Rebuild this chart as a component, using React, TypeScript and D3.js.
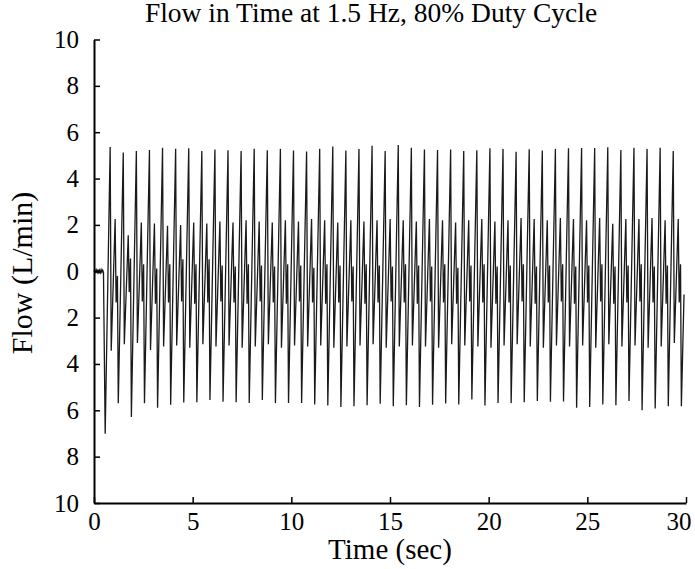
import React, { useEffect, useRef } from 'react'
import * as d3 from 'd3'

// flat signal before the pump starts: [time, flow]
const leadIn: [number, number][] = [
  [0, -0.02], [0.04, 0.06], [0.08, -0.08], [0.12, 0.05], [0.16, -0.05], [0.2, 0.08],
  [0.24, -0.1], [0.28, 0.04], [0.32, -0.06], [0.36, 0.07], [0.4, -0.04], [0.44, 0.05], [0.48, -0.05]
]

// first deep trough time and cycle length (sec)
const cycleStart = 0.567
const cyclePeriod = 0.6636

// where in a cycle each feature sits (fraction of the period after the deep trough)
const phasePeak = 0.38
const phasePostTrough = 0.46
const phaseSecPeak = 0.76
const phaseSmallTrough = 0.835
const phaseSmallPeak = 0.935

const troughs = [
  -7.01, -5.70, -6.29, -5.70, -5.89, -5.76, -5.66, -5.65, -5.56, -5.63, -5.65,
  -5.68, -5.55, -5.69, -5.68, -5.68, -5.75, -5.79, -5.86, -5.83, -5.78, -5.72,
  -5.82, -5.78, -5.86, -5.76, -5.71, -5.75, -5.53, -5.79, -5.68, -5.69, -5.65,
  -5.60, -5.63, -5.62, -5.89, -5.86, -5.75, -5.78, -5.60, -6.00, -5.92, -5.82,
  -5.82
]
const peaks = [
  5.36, 5.12, 5.19, 5.23, 5.33, 5.29, 5.31, 5.19, 5.25, 5.22, 5.19,
  5.29, 5.22, 5.28, 5.21, 5.17, 5.28, 5.38, 5.21, 5.28, 5.41, 5.19,
  5.45, 5.33, 5.25, 5.23, 5.25, 5.19, 5.22, 5.31, 5.28, 5.16, 5.26,
  5.21, 5.28, 5.31, 5.32, 5.32, 5.35, 5.23, 5.33, 5.28, 5.33, 5.19
]
const postTroughs = [
  -3.43, -3.15, -3.10, -3.40, -3.25, -3.20, -3.30, -3.15, -3.25, -3.20, -3.30,
  -3.25, -3.15, -3.30, -3.20, -3.25, -3.20, -3.30, -3.25, -3.20, -3.15, -3.30,
  -3.25, -3.20, -3.25, -3.30, -3.15, -3.20, -3.25, -3.30, -3.20, -3.15, -3.25,
  -3.30, -3.20, -3.25, -3.20, -3.30, -3.15, -3.25, -3.20, -3.30, -3.25, -3.10
]
const secPeaks = [
  2.25, 1.55, 2.10, 2.06, 1.96, 2.00, 2.10, 2.06, 2.15, 2.10, 2.20,
  2.15, 2.10, 2.20, 2.15, 2.25, 2.20, 2.10, 2.20, 2.15, 2.20, 2.25,
  2.20, 2.15, 2.25, 2.20, 2.10, 2.20, 2.25, 2.15, 2.20, 2.30, 2.25,
  2.20, 2.30, 2.25, 2.20, 2.30, 2.05, 2.25, 2.25, 2.30, 2.20, 2.25
]
const smallTroughs = [
  -1.35, -0.90, -1.30, -1.40, -1.35, -1.30, -1.40, -1.35, -1.30, -1.35, -1.40,
  -1.30, -1.35, -1.40, -1.30, -1.35, -1.40, -1.35, -1.30, -1.40, -1.35, -1.30,
  -1.35, -1.40, -1.30, -1.35, -1.40, -1.30, -1.35, -1.40, -1.35, -1.30, -1.40,
  -1.35, -1.30, -1.40, -1.35, -1.30, -1.40, -1.35, -1.30, -1.35, -1.40, -1.35
]
const smallPeaks = [
  -0.20, 0.55, 0.30, 0.12, 0.30, 0.52, 0.30, 0.52, 0.25, 0.20, 0.30,
  0.25, 0.20, 0.30, 0.25, 0.15, 0.30, 0.25, 0.20, 0.30, 0.25, 0.20,
  0.30, 0.25, 0.20, 0.30, 0.15, 0.25, 0.30, 0.20, 0.25, 0.30, 0.20,
  0.25, 0.30, 0.20, 0.25, 0.30, 0.20, 0.25, 0.30, 0.20, 0.25, 0.30
]
// last sample, the record stops on the rising edge
const tail: [number, number] = [29.9, -1.0]

const xTicks = [0, 5, 10, 15, 20, 25, 30]
const yTicks = [-10, -8, -6, -4, -2, 0, 2, 4, 6, 8, 10]

const title = 'Flow in Time at 1.5 Hz, 80% Duty Cycle'
const xLabel = 'Time (sec)'
const yLabel = 'Flow (L/min)'

function buildPoints(): [number, number][] {
  const pts: [number, number][] = [...leadIn]
  troughs.forEach((v, k) => {
    const t0 = cycleStart + k * cyclePeriod
    pts.push([t0, v])
    if (k < peaks.length) {
      pts.push([t0 + phasePeak * cyclePeriod, peaks[k]])
      pts.push([t0 + phasePostTrough * cyclePeriod, postTroughs[k]])
      pts.push([t0 + phaseSecPeak * cyclePeriod, secPeaks[k]])
      pts.push([t0 + phaseSmallTrough * cyclePeriod, smallTroughs[k]])
      pts.push([t0 + phaseSmallPeak * cyclePeriod, smallPeaks[k]])
    }
  })
  pts.push(tail)
  return pts
}

function FlowChart() {
  const svgRef = useRef<SVGSVGElement>(null)
  const width = 695
  const height = 569

  useEffect(() => {
    const svg = d3.select(svgRef.current)
    svg.selectAll('*').remove()

    const font = '"Liberation Serif", "Times New Roman", serif'
    const xScale = d3.scaleLinear().domain([0, 30]).range([94, 686])
    const yScale = d3.scaleLinear().domain([-10, 10]).range([503, 39.5])

    const xAxis = d3.axisBottom(xScale)
      .tickValues(xTicks)
      .tickSizeInner(-6)
      .tickSizeOuter(0)
      .tickPadding(9)
      .tickFormat((d) => String(d))

    const yAxis = d3.axisLeft(yScale)
      .tickValues(yTicks)
      .tickSizeInner(-6)
      .tickSizeOuter(0)
      .tickPadding(15)
      .tickFormat((d) => String(Math.abs(+d)))

    const data = buildPoints()
    const line = d3.line<[number, number]>()
      .x((d) => xScale(d[0]))
      .y((d) => yScale(d[1]))

    svg.append('path')
      .datum(data)
      .attr('d', line)
      .attr('fill', 'none')
      .attr('stroke', '#1a1a1a')
      .attr('stroke-width', 1.3)

    const gx = svg.append('g')
      .attr('transform', `translate(0,${yScale(-10)})`)
      .call(xAxis)
    const gy = svg.append('g')
      .attr('transform', `translate(${xScale(0)},0)`)
      .call(yAxis)

    ;[gx, gy].forEach((g) => {
      g.select('.domain').attr('stroke', '#000').attr('stroke-width', 2)
      g.selectAll('.tick line').attr('stroke', '#000').attr('stroke-width', 1.5)
      g.selectAll('.tick text')
        .attr('fill', '#000')
        .style('font-family', font)
        .style('font-size', '25px')
    })

    // the last time label sits just inside the right edge, as in the source
    gx.selectAll<SVGTextElement, number>('.tick text')
      .filter((d) => d === 30)
      .attr('text-anchor', 'end')
      .attr('x', 5)

    svg.append('text')
      .attr('x', 371)
      .attr('y', 22)
      .attr('text-anchor', 'middle')
      .style('font-family', font)
      .style('font-size', '27.5px')
      .text(title)

    svg.append('text')
      .attr('x', 390)
      .attr('y', 559)
      .attr('text-anchor', 'middle')
      .style('font-family', font)
      .style('font-size', '29px')
      .text(xLabel)

    svg.append('text')
      .attr('transform', 'translate(32,273) rotate(-90)')
      .attr('text-anchor', 'middle')
      .style('font-family', font)
      .style('font-size', '30px')
      .text(yLabel)
  }, [])

  return (
    <svg
      ref={svgRef}
      width={width}
      height={height}
      style={{ position: 'absolute', left: 0, top: 0, background: '#fff' }}
    />
  )
}

export default function App() {
  return <FlowChart />
}
